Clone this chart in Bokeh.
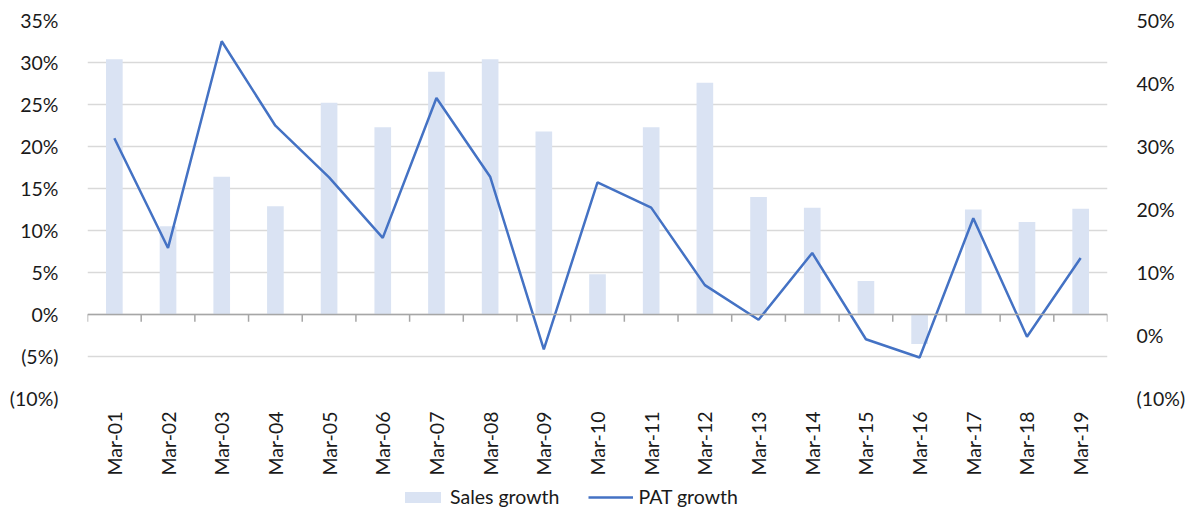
import math
from bokeh.plotting import figure
from bokeh.layouts import column
from bokeh.models import (Range1d, LinearAxis, FixedTicker, Span, Legend, LegendItem,
                          ColumnDataSource)
from bokeh.embed import file_html
from bokeh.resources import INLINE

categories = ["Mar-01", "Mar-02", "Mar-03", "Mar-04", "Mar-05", "Mar-06", "Mar-07",
              "Mar-08", "Mar-09", "Mar-10", "Mar-11", "Mar-12", "Mar-13", "Mar-14",
              "Mar-15", "Mar-16", "Mar-17", "Mar-18", "Mar-19"]
sales_growth = [30.4, 10.5, 16.4, 12.9, 25.2, 22.3, 28.9, 30.4, 21.8, 4.8,
                22.3, 27.6, 14.0, 12.7, 4.0, -3.5, 12.5, 11.0, 12.6]
pat_growth = [31.3, 13.9, 46.7, 33.3, 25.1, 15.5, 37.7, 25.2, -2.2, 24.3,
              20.3, 8.0, 2.5, 13.1, -0.6, -3.5, 18.6, -0.2, 12.3]
left_ticks = [-10, -5, 0, 5, 10, 15, 20, 25, 30, 35]
right_ticks = [-10, 0, 10, 20, 30, 40, 50]


def pct_label(v):
    return f"({abs(v)}%)" if v < 0 else f"{v}%"


FONT = "Lato"
FS = "19.5px"
TXT = "#1a1a1a"
BAR_COLOR = "#DAE3F3"
LINE_COLOR = "#4472C4"

W = 1188
n = len(categories)
xs = [i + 0.5 for i in range(n)]
src = ColumnDataSource(dict(x=xs, sales=sales_growth, pat=pat_growth))

p = figure(width=W, height=480, output_backend="svg", toolbar_location=None,
           x_range=Range1d(0, n), y_range=Range1d(-10, 35),
           min_border_left=87, min_border_right=71, min_border_top=20,
           min_border_bottom=82)
p.outline_line_color = None
p.background_fill_color = "white"
p.border_fill_color = "white"
p.extra_y_ranges = {"right": Range1d(-10, 50)}

# grid
p.xgrid.visible = False
p.ygrid.ticker = FixedTicker(ticks=left_ticks)
p.ygrid.grid_line_color = "#d9d9d9"
p.ygrid.grid_line_width = 1.5

# left axis
ya = p.yaxis[0]
ya.ticker = FixedTicker(ticks=left_ticks)
ya.major_label_overrides = {v: pct_label(v) for v in left_ticks}
ya.axis_line_color = None
ya.major_tick_line_color = None
ya.minor_tick_line_color = None
ya.major_label_standoff = 23
ya.major_label_text_font = FONT
ya.major_label_text_font_size = FS
ya.major_label_text_color = TXT

# right axis
ra = LinearAxis(y_range_name="right", ticker=FixedTicker(ticks=right_ticks))
ra.major_label_overrides = {v: pct_label(v) for v in right_ticks}
ra.axis_line_color = None
ra.major_tick_line_color = None
ra.minor_tick_line_color = None
ra.major_label_standoff = 23
ra.major_label_text_font = FONT
ra.major_label_text_font_size = FS
ra.major_label_text_color = TXT
p.add_layout(ra, "right")

# bottom category axis
xa = p.xaxis[0]
xa.ticker = FixedTicker(ticks=xs)
xa.major_label_overrides = {x: c for x, c in zip(xs, categories)}
xa.major_label_orientation = math.pi / 2
xa.axis_line_color = None
xa.major_tick_line_color = None
xa.minor_tick_line_color = None
xa.major_label_standoff = 7
xa.major_label_text_font = FONT
xa.major_label_text_font_size = FS
xa.major_label_text_color = TXT

# bars
p.vbar(x="x", top="sales", bottom=0, width=0.31, source=src,
       fill_color=BAR_COLOR, line_color=None)

# zero axis line with category boundary ticks
p.add_layout(Span(location=0, dimension="width", line_color="#a6a6a6", line_width=1.5))
bounds = list(range(n + 1))
p.segment(x0=bounds, x1=bounds, y0=[0] * len(bounds), y1=[-0.85] * len(bounds),
          line_color="#a6a6a6", line_width=1.5)

# line
p.line(x="x", y="pat", source=src, y_range_name="right",
       line_color=LINE_COLOR, line_width=2.5)

# legend strip below the chart (its renderers sit outside the visible range)
lg = figure(width=W, height=29, output_backend="svg", toolbar_location=None,
            x_range=Range1d(0, 1), y_range=Range1d(0, 1),
            min_border_left=87, min_border_right=71, min_border_top=0, min_border_bottom=0)
lg.axis.visible = False
lg.grid.visible = False
lg.outline_line_color = None
lg.border_fill_color = "white"
r_bar = lg.vbar(x=[-5], top=[-5], width=0.1, fill_color=BAR_COLOR, line_color=None)
r_line = lg.line(x=[-5, -4], y=[-5, -5], line_color=LINE_COLOR, line_width=2.5)
legend = Legend(items=[LegendItem(label="Sales growth", renderers=[r_bar]),
                       LegendItem(label="PAT growth", renderers=[r_line])],
                orientation="horizontal", location=(313, 1),
                padding=0, margin=0, spacing=29, label_standoff=5,
                glyph_width=45, glyph_height=14,
                label_text_font=FONT, label_text_font_size=FS,
                label_text_color=TXT, border_line_color=None,
                background_fill_alpha=0)
lg.add_layout(legend, "center")

layout = column(p, lg, spacing=0)
open("out.html", "w").write(file_html(layout, INLINE))
